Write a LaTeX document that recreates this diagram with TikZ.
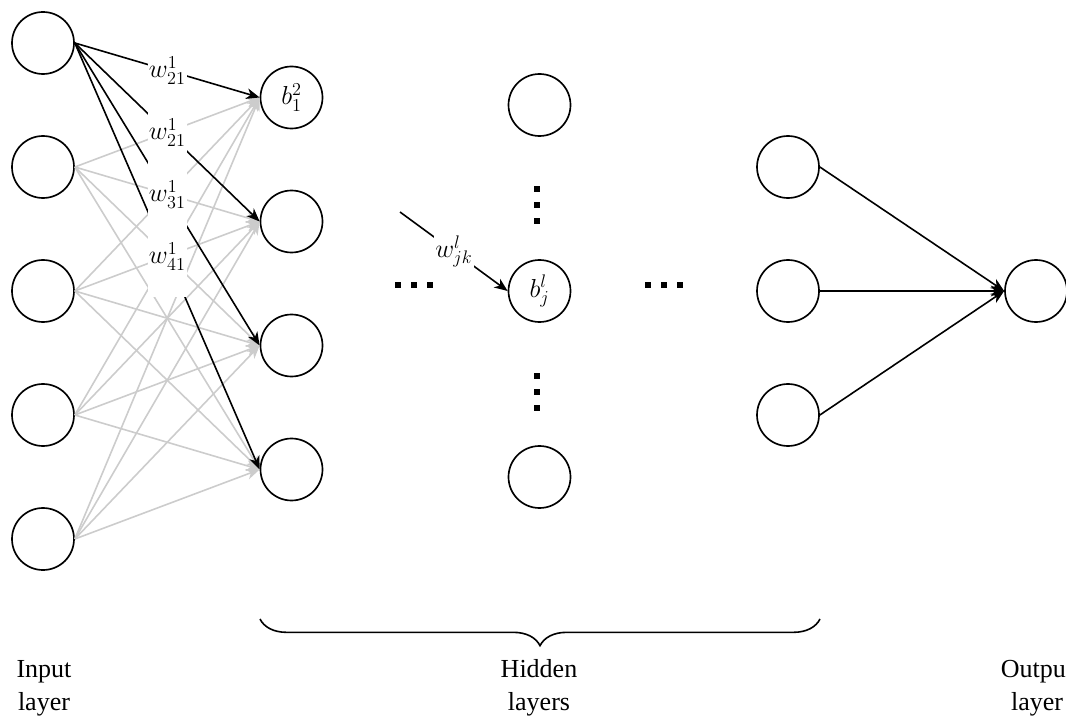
\RequirePackage{fix-cm}
\documentclass[tikz,border=0pt]{standalone}
\usepackage{fontspec}
\setmainfont{Liberation Serif}
\usetikzlibrary{arrows.meta,decorations.pathreplacing}
\begin{document}
\begin{tikzpicture}[x=0.75pt,y=-0.75pt,
  neuron/.style={circle,draw,line width=1.25pt,minimum size=46.5pt,inner sep=0pt,font=\fontsize{19.5pt}{24pt}\selectfont},
  conn/.style={line width=1.2pt,-{Stealth[length=10pt,width=8pt,inset=3pt]}},
  faint/.style={conn,draw=black!20,color=black!20},
  wlbl/.style={fill=white,inner sep=1pt,minimum height=61.5pt,font=\fontsize{19.5pt}{24pt}\selectfont},
  dotsq/.style={fill=black,minimum size=3.9pt,inner sep=0pt},
  caption/.style={align=center,font=\fontsize{19.5pt}{24.75pt}\selectfont}
]
\useasboundingbox (0,0) rectangle (1066,716);

% input layer
\node[neuron] (i1) at (43,43) {};
\node[neuron] (i2) at (43,167) {};
\node[neuron] (i3) at (43,291) {};
\node[neuron] (i4) at (43,415) {};
\node[neuron] (i5) at (43,539) {};

% first hidden layer
\node[neuron] (h1) at (291.5,97.5) {$b^2_1$};
\node[neuron] (h2) at (291.5,221.5) {};
\node[neuron] (h3) at (291.5,345.5) {};
\node[neuron] (h4) at (291.5,469.5) {};

% generic hidden layer
\node[neuron] (m1) at (539.5,105) {};
\node[neuron] (bj) at (539.5,291) {$b^l_j$};
\node[neuron] (m3) at (539.5,477) {};

% last hidden layer
\node[neuron] (o1) at (788,167) {};
\node[neuron] (o2) at (788,291) {};
\node[neuron] (o3) at (788,415) {};

% output
\node[neuron] (out) at (1036,291) {};

% gray connections
\foreach \i in {2,...,5}
  \foreach \h in {1,...,4}
    \draw[faint] (i\i.east) -- (h\h.west);

% black connections from first input
\foreach \h in {1,...,4}
  \draw[conn] (i1.east) -- (h\h.west);

% weight labels
\path (i1.east) -- (h1.west) node[midway,wlbl] {$w^1_{21}$};
\path (i1.east) -- (h2.west) node[midway,wlbl] {$w^1_{21}$};
\path (i1.east) -- (h3.west) node[midway,wlbl] {$w^1_{31}$};
\path (i1.east) -- (h4.west) node[midway,wlbl] {$w^1_{41}$};

% generic weight
\coordinate (wjs) at (400,212);
\draw[conn] (wjs) -- (bj.west) node[midway,wlbl] {$w^l_{jk}$};

% output connections
\foreach \k in {1,2,3}
  \draw[conn] (o\k.east) -- (out.west);

% dots
\foreach \x [count=\n] in {398,414,430} \node[dotsq] (dl\n) at (\x,285) {};
\foreach \x [count=\n] in {648,664,680} \node[dotsq] (dr\n) at (\x,285) {};
\foreach \y [count=\n] in {189,205,221} \node[dotsq] (du\n) at (537,\y) {};
\foreach \y [count=\n] in {376,392,408} \node[dotsq] (dd\n) at (537,\y) {};

% brace
\coordinate (bl) at (260,619);
\coordinate (br) at (820,619);
\draw[line width=1.2pt,decorate,decoration={brace,mirror,amplitude=20pt}] (bl) -- (br);

% captions
\node[caption] (cin) at (44,688) {Input\\layer};
\node[caption] (chid) at (539,688) {Hidden\\layers};
\node[caption] (cout) at (1037,688) {Output\\layer};
\end{tikzpicture}
\end{document}
